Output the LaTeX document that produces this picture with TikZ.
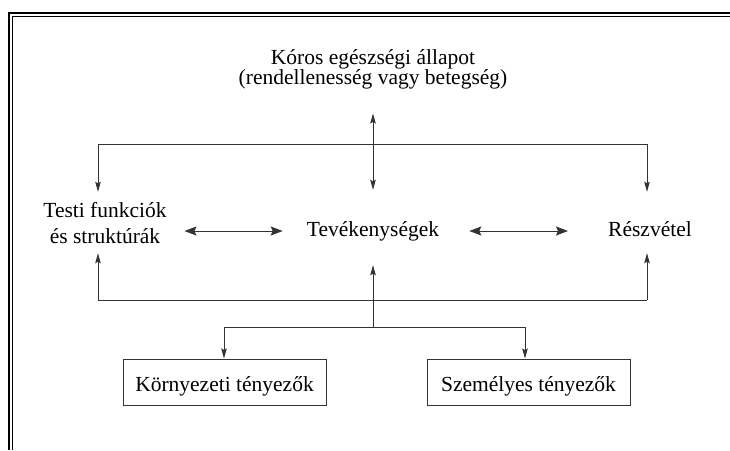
\documentclass[tikz,border=0pt]{standalone}
\usepackage{fontspec}
\setmainfont{Liberation Serif}
\usetikzlibrary{arrows.meta}
\tikzset{
  lbl/.style={inner sep=0pt, font=\fontsize{21.5}{20}\selectfont},
  factorbox/.style={draw=black!80, line width=1pt, inner sep=0pt, anchor=base,
    minimum width=203pt, text height=32pt, text depth=14pt,
    font=\fontsize{21.5}{20}\selectfont},
  conn/.style={draw=black!80, line width=0.9pt},
  vtip/.style={-{Stealth[length=10pt,width=5.5pt,inset=1.5pt]}},
  vboth/.style={{Stealth[length=10pt,width=5.5pt,inset=1.5pt]}-{Stealth[length=10pt,width=5.5pt,inset=1.5pt]}},
  hboth/.style={{Stealth[length=12pt,width=9pt,inset=2pt]}-{Stealth[length=12pt,width=9pt,inset=2pt]}},
}
\begin{document}
\begin{tikzpicture}[x=1pt,y=-1pt]
  \useasboundingbox (0,0) rectangle (730,450);

  % double frame, open to the right and bottom
  \draw[line width=1.8pt] (8.7,450) -- (8.7,12.7) -- (730,12.7);
  \draw[line width=0.9pt] (12.5,450) -- (12.5,16.2) -- (730,16.2);

  % main labels
  \node[lbl, anchor=north, align=center] (koros) at (373,49.5)
    {Kóros egészségi állapot\\(rendellenesség vagy betegség)};
  \node[lbl, anchor=north, align=center, font=\fontsize{21.5}{26}\selectfont] (testi) at (105,202.3)
    {Testi funkciók\\és struktúrák};
  \node[lbl, anchor=base, text height=46pt, text depth=29pt] (tevek) at (373,236) {Tevékenységek};
  \node[lbl, anchor=base, text height=44pt, text depth=17pt] (reszv) at (650,236) {Részvétel};

  % factor boxes
  \node[factorbox] (korny) at (224.5,391) {Környezeti tényezők};
  \node[factorbox] (szem) at (528.5,391) {Személyes tényezők};

  % junction points
  \coordinate (tl) at (98,144);
  \coordinate (tr) at (647,144);
  \coordinate (bl) at (98,300);
  \coordinate (br) at (647,300);
  \coordinate (row) at (373,231);
  \coordinate (fork) at (373,327);
  \coordinate (fl) at (224,327);
  \coordinate (fr) at (525,327);

  % health condition <-> activities
  \draw[conn, vboth, shorten <=24pt] (koros.south) -- (tevek.north);

  % upper bracket
  \draw[conn] (tl) -- (tr);
  \draw[conn, vtip] (tl) -- (tl |- reszv.north);
  \draw[conn, vtip] (tr) -- (tr |- reszv.north);

  % horizontal links
  \draw[conn, hboth, shorten <=17.6pt, shorten >=24pt] (testi.east |- row) -- (tevek.west |- row);
  \draw[conn, hboth, shorten <=30pt, shorten >=40pt] (tevek.east |- row) -- (reszv.west |- row);

  % lower bracket
  \draw[conn] (bl) -- (br);
  \draw[conn, vtip] (bl) -- (bl |- reszv.south);
  \draw[conn, vtip] (br) -- (br |- reszv.south);

  % contextual factors
  \draw[conn, vtip] (fork) -- (tevek.south);
  \draw[conn] (fl) -- (fr);
  \draw[conn, vtip] (fl) -- (fl |- korny.north);
  \draw[conn, vtip] (fr) -- (fr |- szem.north);
\end{tikzpicture}
\end{document}
